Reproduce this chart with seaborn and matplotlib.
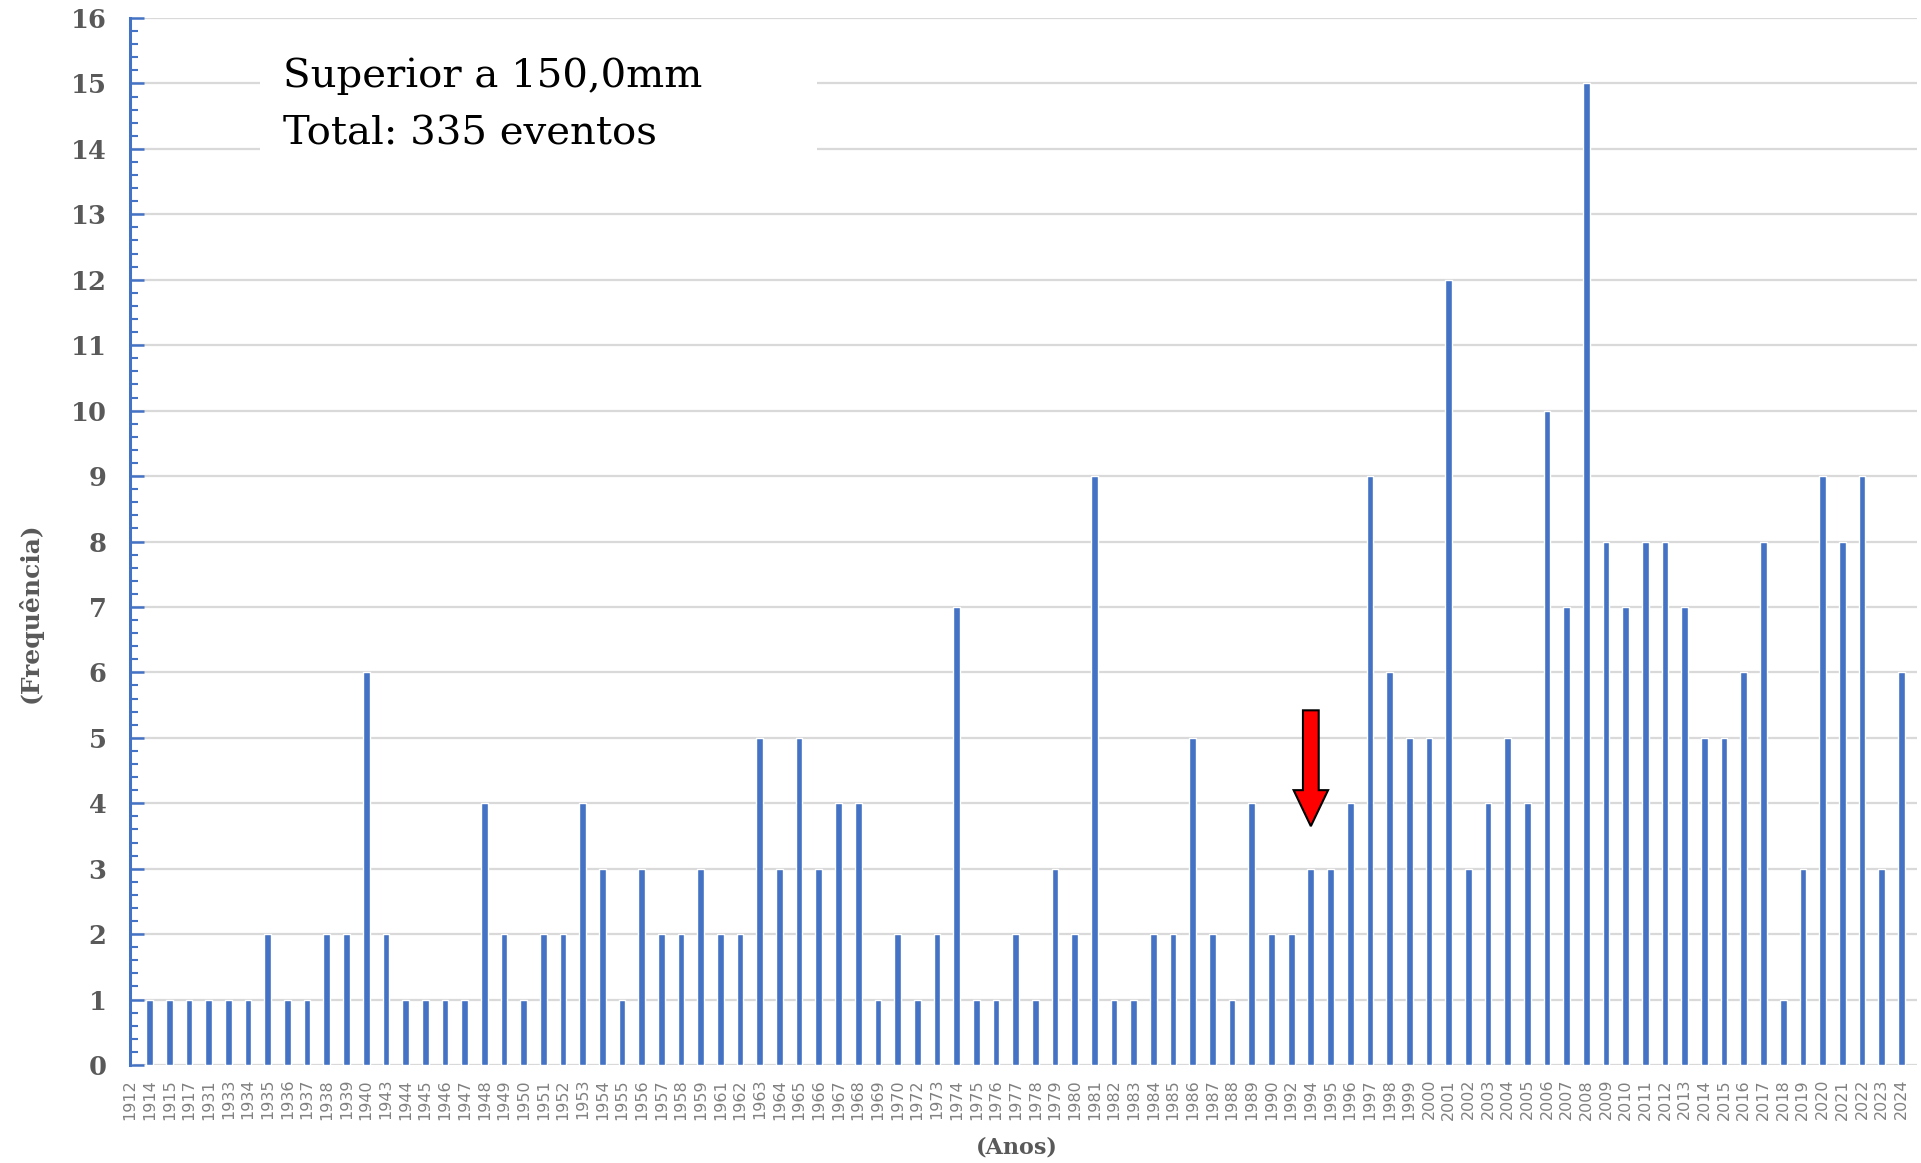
import numpy as np
import pandas as pd
import matplotlib
matplotlib.use("Agg")
import matplotlib.pyplot as plt
from matplotlib.patches import Rectangle
from matplotlib.ticker import MultipleLocator
import seaborn as sns

YEARS = [
    '1912', '1914', '1915', '1917', '1931', '1933', '1934', '1935', '1936', '1937',
    '1938', '1939', '1940', '1943', '1944', '1945', '1946', '1947', '1948', '1949',
    '1950', '1951', '1952', '1953', '1954', '1955', '1956', '1957', '1958', '1959',
    '1961', '1962', '1963', '1964', '1965', '1966', '1967', '1968', '1969', '1970',
    '1972', '1973', '1974', '1975', '1976', '1977', '1978', '1979', '1980', '1981',
    '1982', '1983', '1984', '1985', '1986', '1987', '1988', '1989', '1990', '1992',
    '1994', '1995', '1996', '1997', '1998', '1999', '2000', '2001', '2002', '2003',
    '2004', '2005', '2006', '2007', '2008', '2009', '2010', '2011', '2012', '2013',
    '2014', '2015', '2016', '2017', '2018', '2019', '2020', '2021', '2022', '2023',
    '2024',
]
FREQ = [
    0, 1, 1, 1, 1, 1, 1, 2, 1, 1,
    2, 2, 6, 2, 1, 1, 1, 1, 4, 2,
    1, 2, 2, 4, 3, 1, 3, 2, 2, 3,
    2, 2, 5, 3, 5, 3, 4, 4, 1, 2,
    1, 2, 7, 1, 1, 2, 1, 3, 2, 9,
    1, 1, 2, 2, 5, 2, 1, 4, 2, 2,
    3, 3, 4, 9, 6, 5, 5, 12, 3, 4,
    5, 4, 10, 7, 15, 8, 7, 8, 8, 7,
    5, 5, 6, 8, 1, 3, 9, 8, 9, 3,
    6,
]
NOTE_LINES = ['Superior a 150,0mm', 'Total: 335 eventos']
ARROW_YEAR = '1994'
ARROW_TOP, ARROW_TIP = 5.42, 3.65

BLUE = '#4472C4'
GRID = '#D9D9D9'
LABEL_GRAY = '#595959'

df = pd.DataFrame({'ano': YEARS, 'freq': FREQ})

sns.set_style('white')
plt.rcParams['figure.dpi'] = 100

fig = plt.figure(figsize=(19.21, 11.63))
ax = fig.add_axes([130 / 1921, 1 - 1065 / 1163, (1917 - 130) / 1921, (1065 - 18) / 1163])

sns.barplot(data=df, x='ano', y='freq', color=BLUE, saturation=1, width=0.34, ax=ax, zorder=3)

ax.set_xlim(0, 90.8)
ax.set_ylim(0, 16)
ax.yaxis.set_major_locator(MultipleLocator(1))
ax.yaxis.set_minor_locator(MultipleLocator(0.2))
ax.grid(True, axis='y', which='major', color=GRID, linewidth=1.6, zorder=0)
ax.set_axisbelow(True)

for side in ['top', 'right', 'bottom']:
    ax.spines[side].set_visible(False)
ax.spines['left'].set_color(BLUE)
ax.spines['left'].set_linewidth(2.2)
ax.spines['left'].set_zorder(5)

ax.tick_params(axis='y', which='major', left=True, direction='in', length=10, width=1.8, color=BLUE, pad=17)
ax.tick_params(axis='y', which='minor', left=True, direction='in', length=6, width=1.5, color=BLUE)
ax.tick_params(axis='x', bottom=False, length=0, pad=10)

for lab in ax.get_yticklabels():
    lab.set_fontfamily('DejaVu Serif')
    lab.set_fontweight('bold')
    lab.set_fontsize(18.5)
    lab.set_color(LABEL_GRAY)
plt.setp(ax.get_xticklabels(), rotation=90, fontsize=11.5, color='#808080')

ax.set_xlabel('(Anos)', fontsize=16, fontweight='bold', family='DejaVu Serif', color=LABEL_GRAY)
ax.xaxis.set_label_coords(0.496, -0.068)
ax.set_ylabel('(Frequência)', fontsize=18, fontweight='bold', family='DejaVu Serif', color=LABEL_GRAY)
ax.yaxis.set_label_coords(-0.049, 0.4316)

# white text box hiding the gridlines behind the note
ax.add_patch(Rectangle((0.0727, 0.854), 0.312, 0.128, transform=ax.transAxes,
                       facecolor='white', edgecolor='none', zorder=4))
ax.text(0.0855, 0.962, '\n'.join(NOTE_LINES), transform=ax.transAxes, ha='left', va='top',
        fontsize=29, family='DejaVu Serif', color='black', linespacing=1.68, zorder=6)

xa = YEARS.index(ARROW_YEAR)
ax.arrow(xa, ARROW_TOP, 0, ARROW_TIP - ARROW_TOP, width=0.8, head_width=1.75, head_length=0.55,
         length_includes_head=True, facecolor='red', edgecolor='black', linewidth=1.5, zorder=7)

fig.savefig('out.png', dpi=100)
